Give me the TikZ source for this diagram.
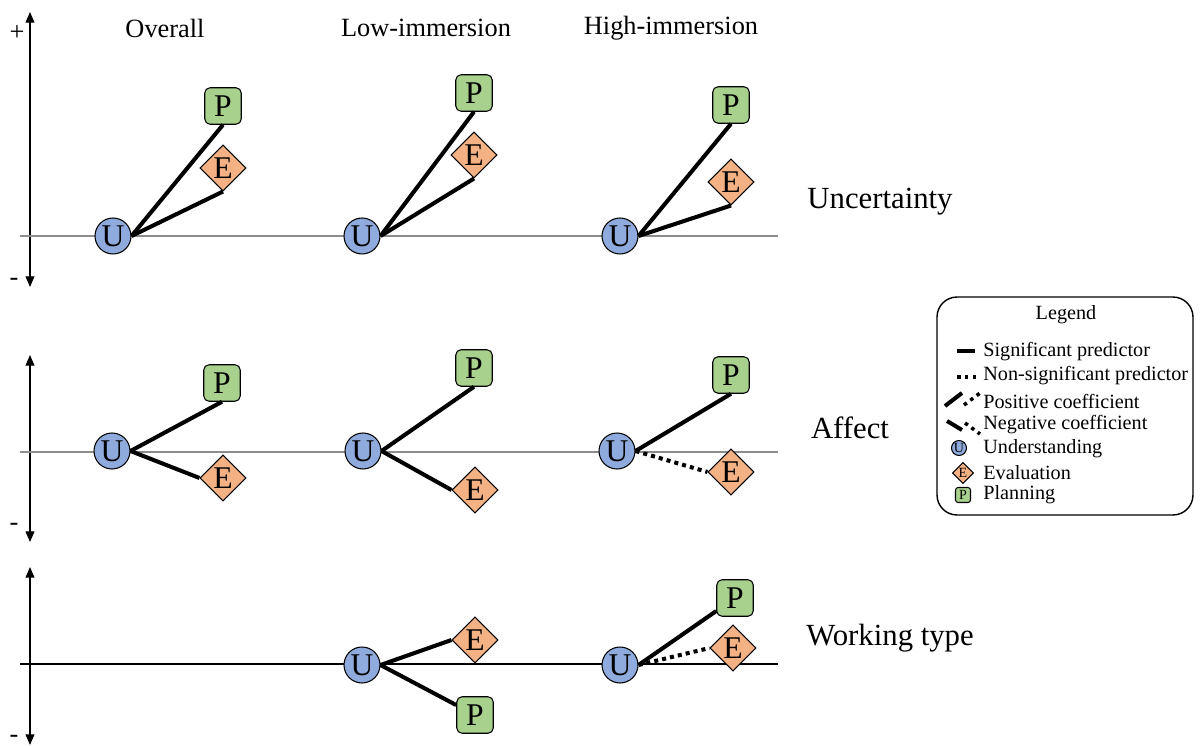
\documentclass[tikz,border=0pt]{standalone}
\usepackage{fontspec}
\setmainfont{Liberation Serif}
\usetikzlibrary{shapes.geometric, arrows.meta}
\definecolor{ublue}{HTML}{8FAADC}
\definecolor{eorange}{HTML}{F4B183}
\definecolor{pgreen}{HTML}{A9D18E}

\begin{document}
\begin{tikzpicture}[x=0.02cm, y=-0.02cm,
    under/.style={circle, draw=black, line width=0.6pt, fill=ublue, minimum size=0.72cm, inner sep=0pt, font=\fontsize{18}{18}\selectfont},
    evalu/.style={diamond, aspect=1, draw=black, line width=0.6pt, fill=eorange, minimum width=0.92cm, minimum height=0.92cm, inner sep=0pt, font=\fontsize{18}{18}\selectfont},
    plann/.style={rectangle, rounded corners=3pt, draw=black, line width=0.6pt, fill=pgreen, minimum size=0.73cm, inner sep=0pt, font=\fontsize{18}{18}\selectfont},
    sig/.style={line width=2.3pt},
    nonsig/.style={line width=2.3pt, dash pattern=on 2.3pt off 2.3pt},
    axis/.style={<->, >={Triangle[width=5pt,length=6pt]}, line width=0.6pt},
    base/.style={line width=0.8pt, color=black!45},
    coltitle/.style={font=\fontsize{15}{15}\selectfont},
    rowtitle/.style={font=\fontsize{17.5}{17.5}\selectfont},
    legtext/.style={anchor=west, inner sep=0pt, font=\fontsize{11.5}{12}\selectfont}]

    \useasboundingbox (0,0) rectangle (1200,746);

    % axes
    \draw [axis] (30,12) -- (30,287);
    \draw [axis] (30,355) -- (30,542);
    \draw [axis] (30,567) -- (30,745);
    \draw [base] (20,236) -- (778,236);
    \draw [base] (20,452) -- (778,452);
    \draw [line width=0.6pt] (20,664) -- (778,664);
    \node (plus) [coltitle] at (17,33) {+};
    \node (min1) [coltitle] at (14,282) {-};
    \node (min2) [coltitle] at (14,527) {-};
    \node (min3) [coltitle] at (14,739) {-};

    % titles
    \node (overall) [coltitle] at (165,28) {Overall};
    \node (low) [coltitle] at (426,28) {Low-immersion};
    \node (high) [coltitle] at (671,28) {High-immersion};
    \node (uncert) [rowtitle] at (880,202) {Uncertainty};
    \node (affect) [rowtitle] at (850,428) {Affect};
    \node (work) [rowtitle] at (890,638) {Working type};

    % uncertainty
    \node (u11) [under] at (113,236) {U};
    \node (p11) [plann] at (223,106) {P};
    \node (e11) [evalu] at (223,168) {E};
    \node (u12) [under] at (362,236) {U};
    \node (p12) [plann] at (474,93) {P};
    \node (e12) [evalu] at (474,155) {E};
    \node (u13) [under] at (620,236) {U};
    \node (p13) [plann] at (731,105) {P};
    \node (e13) [evalu] at (731,182) {E};

    \draw [sig] (u11.east) -- (p11.south);
    \draw [sig] (u11.east) -- (e11.south);
    \draw [sig] (u12.east) -- (p12.south);
    \draw [sig] (u12.east) -- (e12.south);
    \draw [sig] (u13.east) -- (p13.south);
    \draw [sig] (u13.east) -- (e13.south);

    % affect
    \node (u21) [under] at (112,451) {U};
    \node (p21) [plann] at (222,383) {P};
    \node (e21) [evalu] at (223,478) {E};
    \node (u22) [under] at (363,451) {U};
    \node (p22) [plann] at (474,368) {P};
    \node (e22) [evalu] at (475,490) {E};
    \node (u23) [under] at (617,451) {U};
    \node (p23) [plann] at (731,375) {P};
    \node (e23) [evalu] at (731,472) {E};

    \draw [sig] (u21.east) -- (p21.south);
    \draw [sig] (u21.east) -- (e21.west);
    \draw [sig] (u22.east) -- (p22.south);
    \draw [sig] (u22.east) -- (e22.west);
    \draw [sig] (u23.east) -- (p23.south);
    \draw [nonsig] (u23.east) -- (e23.west);

    % working type
    \node (u32) [under] at (362,665) {U};
    \node (e32) [evalu] at (475,640) {E};
    \node (p32) [plann] at (475,715) {P};
    \node (u33) [under] at (620,665) {U};
    \node (p33) [plann] at (735,598) {P};
    \node (e33) [evalu] at (733,648) {E};

    \draw [sig] (u32.east) -- (e32.west);
    \draw [sig] (u32.east) -- (p32);
    \draw [sig] (u33.east) -- (p33);
    \draw [nonsig] (u33.east) -- (e33.west);

    % legend
    \node (legbox) [draw, line width=0.8pt, rounded corners=0.4cm, minimum width=5.12cm, minimum height=4.36cm] at (1065,406) {};
    \node (legtitle) [font=\fontsize{11.5}{12}\selectfont] at (1066,315) {Legend};
    \draw [sig] (957,351) -- (975,351);
    \draw [nonsig, line width=2pt, dash pattern=on 2pt off 2.5pt] (957,377) -- (977,377);
    \draw [sig] (945,406) -- (962,393);
    \draw [nonsig, line width=2pt, dash pattern=on 2pt off 2.5pt] (964,405) -- (980,393);
    \draw [sig] (947,421) -- (962,430);
    \draw [nonsig, line width=2pt, dash pattern=on 2pt off 2.5pt] (965,423) -- (980,434);
    \node (legu) [under, minimum size=0.3cm, font=\fontsize{8}{8}\selectfont] at (959,448) {U};
    \node (lege) [evalu, minimum width=0.42cm, minimum height=0.42cm, font=\fontsize{8}{8}\selectfont] at (963,473) {E};
    \node (legp) [plann, minimum size=0.3cm, rounded corners=1.5pt, font=\fontsize{8}{8}\selectfont] at (963,495) {P};
    \node (l1) [legtext] at (983,352) {Significant predictor};
    \node (l2) [legtext] at (983,376) {Non-significant predictor};
    \node (l3) [legtext] at (983,401) {Positive coefficient};
    \node (l4) [legtext] at (983,425) {Negative coefficient};
    \node (l5) [legtext] at (983,449) {Understanding};
    \node (l6) [legtext] at (983,473) {Evaluation};
    \node (l7) [legtext] at (983,495) {Planning};
\end{tikzpicture}
\end{document}
